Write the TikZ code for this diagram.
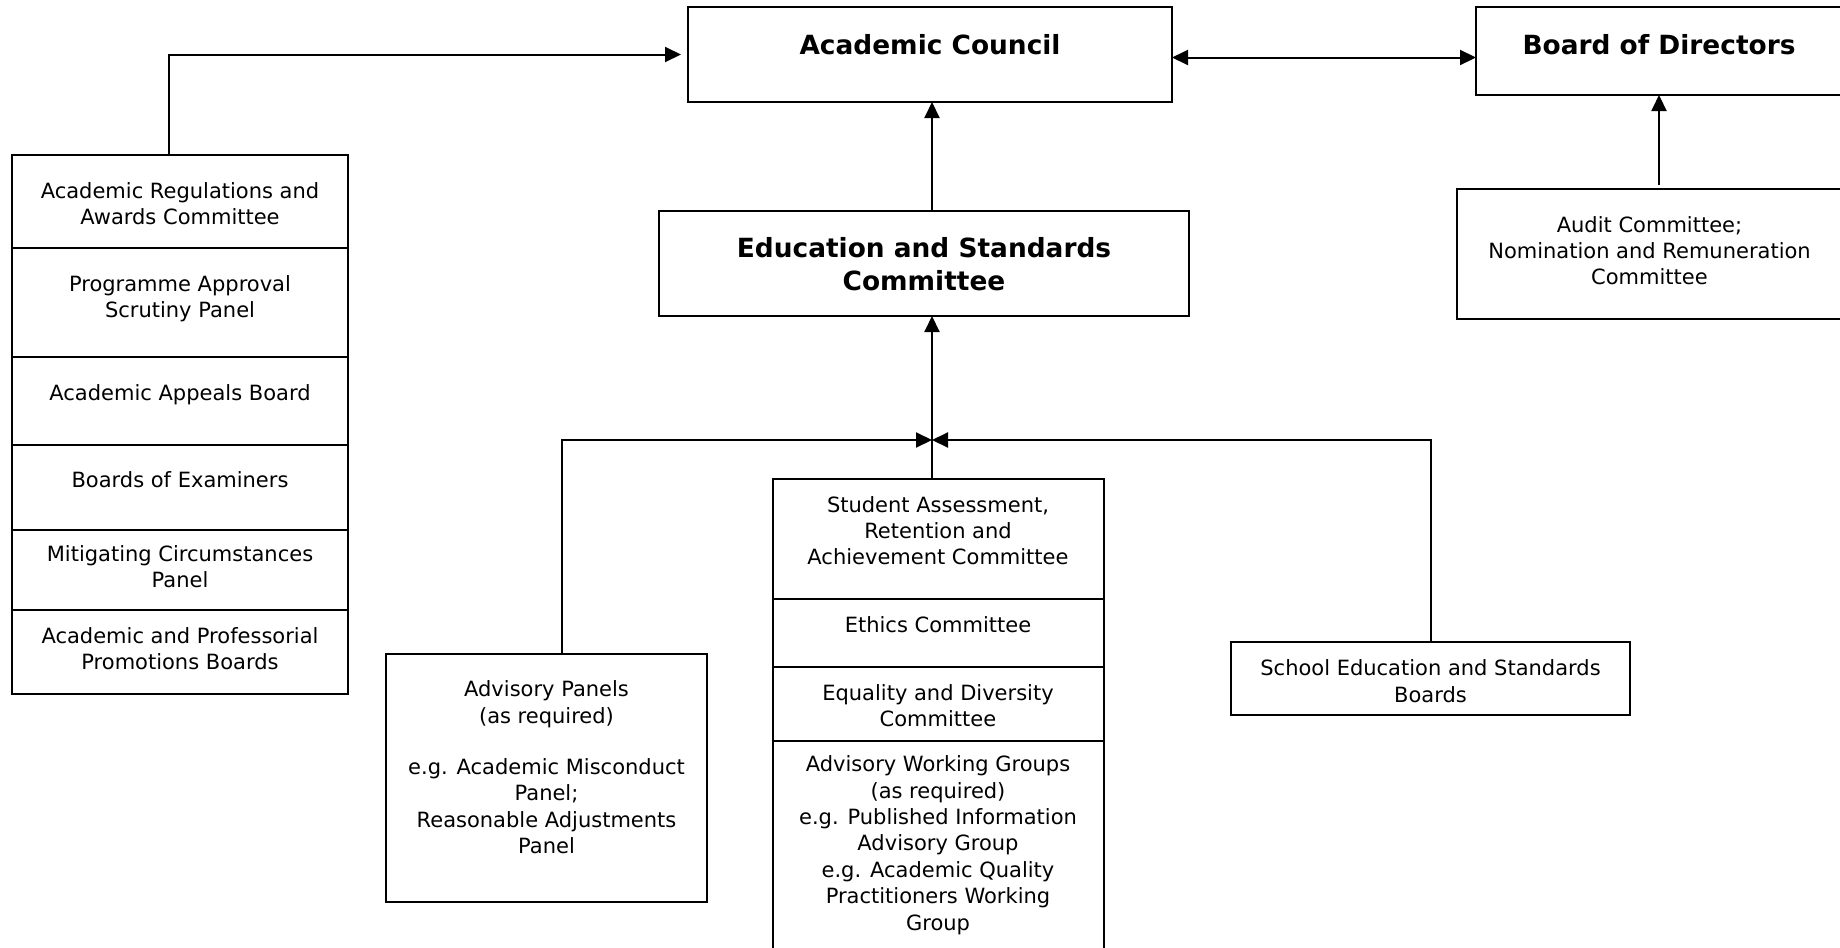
\documentclass[tikz,border=0pt]{standalone}
\usepackage{fontspec}
\setmainfont{DejaVu Sans}
\usetikzlibrary{arrows.meta,positioning}

\begin{document}
\begin{tikzpicture}[
            x=1pt, y=-1pt,
            box/.style={draw, line width=2pt, outer sep=0pt, inner sep=0pt, anchor=north west},
            txt/.style={align=center, inner sep=0pt, font=\fontsize{21pt}{26.4pt}\selectfont},
            head/.style={align=center, inner sep=0pt, font=\fontsize{26.4pt}{33pt}\selectfont\bfseries},
            link/.style={line width=2pt},
            >={Triangle[length=16pt,width=15pt]}
          ]

          \clip (0,0) rectangle (1840,948);

          % Top boxes
          \node[box, minimum width=484pt, minimum height=95pt] (council) at (688,7) {};
          \node[head, below=27.7pt of council.north] (council-t) {Academic Council};
          \node[box, minimum width=366pt, minimum height=88pt] (board) at (1476,7) {};
          \node[head, below=27.7pt of board.north] (board-t) {Board of Directors};

          \node[box, minimum width=530pt, minimum height=105pt] (esc) at (659,211) {};
          \node[head, below=26.7pt of esc.north] (esc-t) {Education and Standards\\Committee};
          \node[box, minimum width=385pt, minimum height=130pt] (audit) at (1457,189) {};
          \node[txt, below=27pt of audit.north] (audit-t) {Audit Committee;\\Nomination and Remuneration\\Committee};

          % Left stack
          \node[box, minimum width=336pt, minimum height=93pt] (regs) at (12,155) {};
          \node[box, minimum width=336pt, minimum height=109pt, below=0pt of regs] (approval) {};
          \node[box, minimum width=336pt, minimum height=88pt, below=0pt of approval] (appeals) {};
          \node[box, minimum width=336pt, minimum height=85pt, below=0pt of appeals] (examiners) {};
          \node[box, minimum width=336pt, minimum height=80pt, below=0pt of examiners] (mitigating) {};
          \node[box, minimum width=336pt, minimum height=84pt, below=0pt of mitigating] (promotions) {};

          \node[txt, below=27pt of regs.north] (regs-t) {Academic Regulations and\\Awards Committee};
          \node[txt, below=27pt of approval.north] (approval-t) {Programme Approval\\Scrutiny Panel};
          \node[txt, below=27pt of appeals.north] (appeals-t) {Academic Appeals Board};
          \node[txt, below=26.7pt of examiners.north] (examiners-t) {Boards of Examiners};
          \node[txt, below=15pt of mitigating.north] (mitigating-t) {Mitigating Circumstances\\Panel};
          \node[txt, below=17pt of promotions.north] (promotions-t) {Academic and Professorial\\Promotions Boards};

          % Centre stack
          \node[box, minimum width=331pt, minimum height=120pt] (sarac) at (772.5,479) {};
          \node[box, minimum width=331pt, minimum height=68pt, below=0pt of sarac] (ethics) {};
          \node[box, minimum width=331pt, minimum height=74pt, below=0pt of ethics] (equality) {};
          \node[box, minimum width=331pt, minimum height=234pt, below=0pt of equality] (working) {};

          \node[txt, below=17pt of sarac.north] (sarac-t) {Student Assessment,\\Retention and\\Achievement Committee};
          \node[txt, below=17pt of ethics.north] (ethics-t) {Ethics Committee};
          \node[txt, below=17pt of equality.north] (equality-t) {Equality and Diversity\\Committee};
          \node[txt, below=14.6pt of working.north] (working-t) {Advisory Working Groups\\(as required)\\e.g. Published Information\\Advisory Group\\e.g. Academic Quality\\Practitioners Working\\Group};

          % Side boxes
          \node[box, minimum width=321pt, minimum height=248pt] (panels) at (386,654) {};
          \node[txt, below=26.5pt of panels.north] (panels-t) {Advisory Panels\\(as required)\\[25pt]e.g. Academic Misconduct\\Panel;\\Reasonable Adjustments\\Panel};
          \node[box, minimum width=399pt, minimum height=73pt] (school) at (1231,641.6) {};
          \node[txt, below=18pt of school.north] (school-t) {School Education and Standards\\Boards};

          \coordinate (hub) at (932,440);

          % Edges
          \draw[link, ->, shorten >=7pt] ([xshift=-11pt]regs.north) |- (council.west);
          \draw[link, <->] ([yshift=-3pt]council.east) -- ([yshift=-3pt]council.east -| board.west);
          \draw[link, ->] (esc.north -| hub) -- (council.south -| hub);
          \draw[link, ->, shorten <=4pt] (audit.north -| board.south) -- (board.south);
          \draw[link, ->] (sarac.north -| hub) -- (esc.south -| hub);
          \draw[link, ->] ([xshift=15pt]panels.north) |- (hub);
          \draw[link, ->] (school.north) |- (hub);

        \end{tikzpicture}
\end{document}
